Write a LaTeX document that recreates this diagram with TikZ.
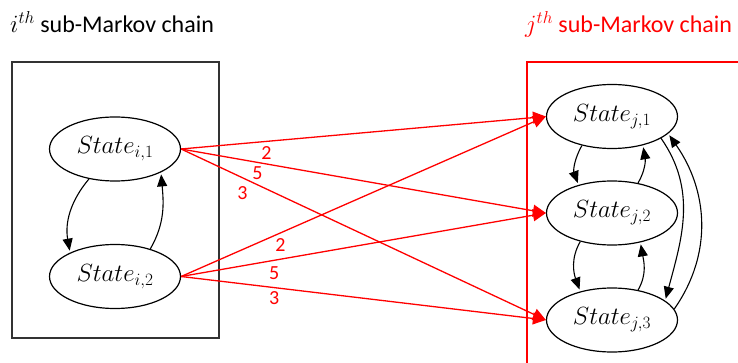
\documentclass[tikz,border=0pt]{standalone}
\usepackage{fontspec}
\setmainfont{Carlito}
\usetikzlibrary{arrows.meta,shapes.geometric}
\begin{document}
\begin{tikzpicture}[x=1pt,y=1pt,
  st/.style={ellipse,draw,line width=1.2pt,minimum width=131pt,minimum height=64pt,inner sep=0pt,font=\fontsize{24}{28}\selectfont},
  blk/.style={-{Triangle[length=12pt,width=10pt]},line width=1.1pt,shorten >=2pt},
  rd/.style={red,line width=1.3pt,-{Triangle[length=13pt,width=12pt]}},
  lbl/.style={red,font=\fontsize{20}{22}\selectfont,inner sep=0pt},
  ttl/.style={anchor=base west,inner sep=0pt,font=\fontsize{24}{28}\selectfont}]
\useasboundingbox (0,0) rectangle (738,-363);
% titles
\node[ttl] (ti) at (10,-33) {$i^{th}$ sub-Markov chain};
\node[ttl,red] (tj) at (525,-33) {$j^{th}$ sub-Markov chain};
% boxes
\draw[line width=1.5pt,black!80] (12,-62) rectangle (219,-338);
\draw[line width=1.3pt,red] (527,-363) -- (527,-62) -- (738,-62);
% states
\node[st] (i1) at (115,-149) {$State_{i,1}$};
\node[st] (i2) at (115,-276.5) {$State_{i,2}$};
\node[st] (j1) at (612,-116.5) {$State_{j,1}$};
\node[st] (j2) at (612,-213) {$State_{j,2}$};
\node[st] (j3) at (612,-320) {$State_{j,3}$};
% black arrows
\draw[blk] (i1.229) to[out=-130,in=100] (i2.152);
\draw[blk] (i2.38) to[out=60,in=-85] (i1.333);
\draw[blk] (j1.224) to[out=-120,in=110] (j2.140);
\draw[blk] (j2.49) to[out=60,in=-80] (j1.317);
\draw[blk] (j2.222) to[out=-120,in=110] (j3.138);
\draw[blk] (j3.49) to[out=60,in=-80] (j2.314);
\draw[blk] (j1.336) to[out=-55,in=75] (j3.20);
\draw[blk] (j3.10) to[out=55,in=-55] (j1.343);
% red arrows
\draw[rd] (i1.east) -- node[lbl,pos=0.234,yshift=-11.6pt]{2} (j1.west);
\draw[rd] (i1.east) -- node[lbl,pos=0.209,yshift=-10.6pt]{5} (j2.west);
\draw[rd] (i1.east) -- node[lbl,pos=0.168,yshift=-15.3pt]{3} (j3.west);
\draw[rd] (i2.east) -- node[lbl,pos=0.272,yshift=-12pt]{2} (j1.west);
\draw[rd] (i2.east) -- node[lbl,pos=0.2555,yshift=-12.4pt]{5} (j2.west);
\draw[rd] (i2.east) -- node[lbl,pos=0.2555,yshift=-10.4pt]{3} (j3.west);
\end{tikzpicture}
\end{document}
